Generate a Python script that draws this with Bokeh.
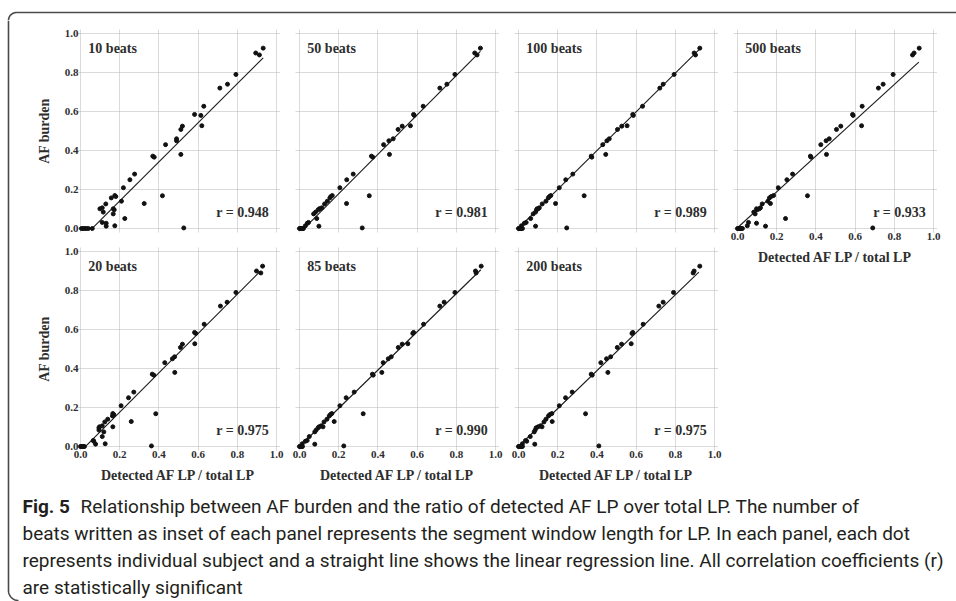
import numpy as np
from bokeh.plotting import figure
from bokeh.layouts import row, column
from bokeh.models import Range1d, FixedTicker, PrintfTickFormatter
from bokeh.core.properties import value
from bokeh.embed import file_html
from bokeh.resources import INLINE

# ---------------- data ----------------
# AF burden of each subject (shared y values of every panel)
af_burden = [0.925, 0.900, 0.890, 0.790, 0.740, 0.720, 0.627, 0.585, 0.580, 0.527,
             0.525, 0.508, 0.460, 0.450, 0.430, 0.380, 0.371, 0.366, 0.279, 0.250,
             0.209, 0.168, 0.169, 0.164, 0.157, 0.140, 0.128, 0.126, 0.106, 0.101,
             0.101, 0.096, 0.084, 0.075, 0.051, 0.031, 0.027, 0.012, 0.014, 0.003,
             0.000, 0.000, 0.000, 0.000, 0.000, 0.000]

# detected AF LP / total LP for each segment window length
ratio_10 = [0.932, 0.894, 0.913, 0.793, 0.750, 0.711, 0.629, 0.582, 0.614, 0.619,
            0.520, 0.512, 0.490, 0.490, 0.434, 0.512, 0.369, 0.376, 0.276, 0.252,
            0.219, 0.418, 0.175, 0.180, 0.157, 0.209, 0.325, 0.129, 0.111, 0.099,
            0.167, 0.172, 0.116, 0.167, 0.226, 0.111, 0.131, 0.131, 0.175, 0.527,
            0.005, 0.013, 0.022, 0.030, 0.040, 0.060]
ratio_20 = [0.929, 0.898, 0.920, 0.793, 0.748, 0.714, 0.631, 0.582, 0.588, 0.583,
            0.520, 0.510, 0.480, 0.469, 0.430, 0.481, 0.366, 0.374, 0.272, 0.245,
            0.207, 0.384, 0.165, 0.170, 0.163, 0.139, 0.259, 0.124, 0.111, 0.097,
            0.165, 0.094, 0.094, 0.119, 0.111, 0.065, 0.068, 0.077, 0.126, 0.362,
            0.000, 0.004, 0.008, 0.012, 0.016, 0.020]
ratio_50 = [0.923, 0.894, 0.906, 0.793, 0.752, 0.716, 0.631, 0.582, 0.585, 0.566,
            0.524, 0.503, 0.478, 0.456, 0.429, 0.459, 0.367, 0.374, 0.274, 0.241,
            0.206, 0.356, 0.167, 0.160, 0.155, 0.142, 0.240, 0.128, 0.114, 0.102,
            0.104, 0.095, 0.082, 0.072, 0.088, 0.046, 0.040, 0.099, 0.030, 0.320,
            0.000, 0.004, 0.008, 0.012, 0.016, 0.020]
ratio_85 = [0.927, 0.898, 0.901, 0.793, 0.738, 0.716, 0.633, 0.582, 0.578, 0.553,
            0.524, 0.504, 0.468, 0.453, 0.427, 0.420, 0.372, 0.376, 0.279, 0.238,
            0.206, 0.325, 0.165, 0.158, 0.152, 0.140, 0.177, 0.125, 0.110, 0.100,
            0.120, 0.095, 0.085, 0.078, 0.050, 0.039, 0.030, 0.078, 0.014, 0.226,
            0.000, 0.003, 0.006, 0.009, 0.012, 0.015]
ratio_100 = [0.925, 0.896, 0.903, 0.794, 0.738, 0.721, 0.633, 0.583, 0.586, 0.554,
             0.527, 0.505, 0.463, 0.451, 0.430, 0.445, 0.371, 0.374, 0.277, 0.241,
             0.208, 0.335, 0.165, 0.158, 0.152, 0.140, 0.189, 0.121, 0.106, 0.095,
             0.100, 0.092, 0.087, 0.075, 0.062, 0.039, 0.030, 0.087, 0.015, 0.246,
             0.000, 0.004, 0.008, 0.012, 0.016, 0.020]
ratio_200 = [0.925, 0.896, 0.891, 0.791, 0.738, 0.716, 0.636, 0.583, 0.579, 0.575,
             0.526, 0.504, 0.470, 0.449, 0.420, 0.456, 0.371, 0.376, 0.274, 0.240,
             0.208, 0.342, 0.170, 0.160, 0.153, 0.140, 0.172, 0.130, 0.112, 0.100,
             0.120, 0.090, 0.085, 0.080, 0.060, 0.036, 0.042, 0.083, 0.020, 0.410,
             0.000, 0.004, 0.008, 0.012, 0.016, 0.020]
ratio_500 = [0.927, 0.901, 0.893, 0.794, 0.743, 0.719, 0.636, 0.587, 0.590, 0.633,
             0.527, 0.505, 0.468, 0.452, 0.425, 0.454, 0.372, 0.375, 0.281, 0.252,
             0.208, 0.357, 0.184, 0.172, 0.163, 0.155, 0.168, 0.126, 0.117, 0.097,
             0.111, 0.100, 0.083, 0.090, 0.245, 0.056, 0.097, 0.143, 0.050, 0.690,
             0.000, 0.005, 0.010, 0.015, 0.020, 0.025]

panel_labels = ["10 beats", "50 beats", "100 beats", "500 beats", "20 beats", "85 beats", "200 beats"]
r_values = ["0.948", "0.981", "0.989", "0.933", "0.975", "0.990", "0.975"]
# regression lines: slope, intercept, x extent
reg_slope = [1.003, 1.010, 0.993, 0.918, 1.008, 0.980, 0.972]
reg_intercept = [-0.060, -0.024, 0.002, 0.004, -0.026, 0.000, 0.000]
reg_x_start = [0.060, 0.024, 0.000, 0.000, 0.026, 0.000, 0.000]
reg_x_end = [0.932, 0.923, 0.929, 0.925, 0.918, 0.925, 0.920]

tick_values = [0.0, 0.2, 0.4, 0.6, 0.8, 1.0]
y_title = "AF burden"
x_title = "Detected AF LP / total LP"

caption_bold = "Fig. 5"
caption_lines = [
    "Relationship between AF burden and the ratio of detected AF LP over total LP. The number of",
    "beats written as inset of each panel represents the segment window length for LP. In each panel, each dot",
    "represents individual subject and a straight line shows the linear regression line. All correlation coefficients (r)",
    "are statistically significant",
]

# ---------------- styling ----------------
SERIF = "Liberation Serif"
CAP_FONT = "Roboto"
TXT = "#2e2e2e"
GRID = "#b4b4b4"
PAD_X = 4 / 196
PAD_Y = 4 / 195


def style_axis(ax, visible, title, standoff, title_standoff):
    ax.visible = visible
    ax.ticker = FixedTicker(ticks=tick_values)
    ax.formatter = PrintfTickFormatter(format="%.1f")
    ax.axis_line_color = None
    ax.major_tick_line_color = None
    ax.minor_tick_line_color = None
    ax.major_tick_out = 0
    ax.major_tick_in = 0
    ax.major_label_standoff = standoff
    ax.major_label_text_font = SERIF
    ax.major_label_text_font_style = "bold"
    ax.major_label_text_font_size = "11px"
    ax.major_label_text_color = TXT
    if title:
        ax.axis_label = title
        ax.axis_label_standoff = title_standoff
        ax.axis_label_text_font = SERIF
        ax.axis_label_text_font_style = "bold"
        ax.axis_label_text_font_size = "14px"
        ax.axis_label_text_color = TXT


def make_panel(i, xs, width, height, left, right, top, bottom, show_x, show_y):
    p = figure(width=width, height=height,
               x_range=Range1d(-PAD_X, 1 + PAD_X), y_range=Range1d(-PAD_Y, 1 + PAD_Y),
               output_backend="svg", toolbar_location=None,
               min_border_left=left, min_border_right=right,
               min_border_top=top, min_border_bottom=bottom)
    p.outline_line_color = None
    p.background_fill_color = "white"
    p.border_fill_color = "white"
    style_axis(p.xaxis[0], show_x, x_title if show_x else None, 0, 7)
    style_axis(p.yaxis[0], show_y, y_title if show_y else None, -2, 10)
    for g in (p.xgrid[0], p.ygrid[0]):
        g.ticker = FixedTicker(ticks=tick_values)
        g.grid_line_color = GRID
        g.grid_line_dash = "1 1"
        g.grid_line_width = 1

    xx = np.array([reg_x_start[i], reg_x_end[i]])
    p.line(xx, reg_slope[i] * xx + reg_intercept[i], line_color="#1a1a1a", line_width=1.1)
    p.scatter(xs, af_burden, size=4.0, color="#111111")

    p.text(x=[0.04], y=[0.923], text=[panel_labels[i]], text_font=value(SERIF),
           text_font_style="bold", text_font_size="14px", text_color=TXT,
           text_align="left", text_baseline="middle")
    p.text(x=[0.962], y=[0.082], text=["r = " + r_values[i]], text_font=value(SERIF),
           text_font_style="bold", text_font_size="14px", text_color=TXT,
           text_align="right", text_baseline="middle")
    return p


# top row: 10, 50, 100, 500 beats ; bottom row: 20, 85, 200 beats
p10 = make_panel(0, ratio_10, 268, 220, 56, 8, 9, 8, False, True)
p50 = make_panel(1, ratio_50, 219, 220, 7, 8, 9, 8, False, False)
p100 = make_panel(2, ratio_100, 219, 220, 7, 8, 9, 8, False, False)
p500 = make_panel(3, ratio_500, 230, 468, 7, 19, 9, 256, True, False)
p20 = make_panel(4, ratio_20, 268, 248, 56, 8, 7, 38, True, True)
p85 = make_panel(5, ratio_85, 219, 248, 7, 8, 7, 38, True, False)
p200 = make_panel(6, ratio_200, 219, 248, 7, 8, 7, 38, True, False)


def blank(width, height, x0, x1, y0, y1):
    f = figure(width=width, height=height, x_range=Range1d(x0, x1), y_range=Range1d(y0, y1),
               output_backend="svg", toolbar_location=None,
               x_axis_location=None, y_axis_location=None, min_border=0)
    f.grid.visible = False
    f.outline_line_color = None
    f.background_fill_color = "white"
    f.border_fill_color = "white"
    return f


BORDER = "#4a4a4a"
# top strip with the rounded top-left corner of the figure box
top = blank(956, 20, 0, 956, 20, 0)
th = np.linspace(np.pi, 1.5 * np.pi, 20)
top.line(np.r_[16 + 8 * np.cos(th), 956], np.r_[20 + 8 * np.sin(th), 12],
         line_color=BORDER, line_width=1.6)

# left strip with the rest of the box edge
left = blank(20, 581, 0, 20, 601, 20)
th2 = np.linspace(np.pi, 0.5 * np.pi, 20)
left.line(np.r_[8, 18 + 10 * np.cos(th2)], np.r_[20, 590 + 10 * np.sin(th2)],
          line_color=BORDER, line_width=1.6)

# caption (starts at page y = 488)
cap = blank(936, 113, 0, 936, 113, 0)
cap.text(x=[2], y=[18], text=[caption_bold], text_font=value(CAP_FONT), text_font_style="bold",
         text_font_size="19px", text_color="#231f20", text_baseline="alphabetic")
cap.text(x=[60, 2, 2, 2], y=[18, 45, 72, 99], text=caption_lines, text_font=value(CAP_FONT),
         text_font_size="19px", text_color="#231f20", text_baseline="alphabetic")

panels = row(column(p10, p20), column(p50, p85), column(p100, p200), p500)
main = column(panels, cap)
layout = column(top, row(left, main))

open("out.html", "w").write(file_html(layout, INLINE))
